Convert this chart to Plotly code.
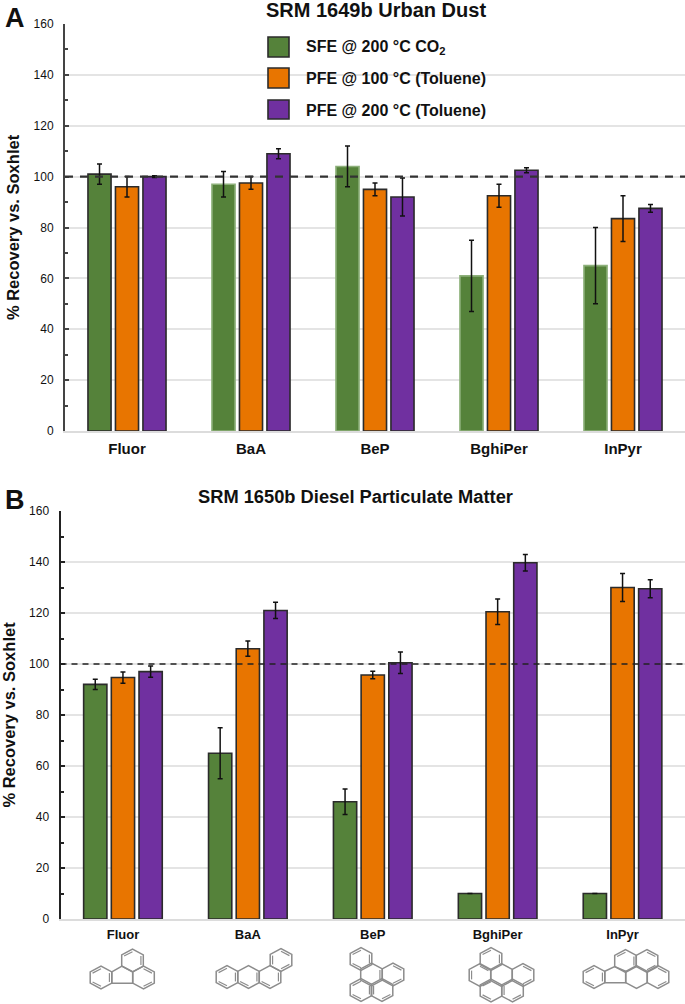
import math
import plotly.graph_objects as go

W, H = 685, 1004

compounds = ["Fluor", "BaA", "BeP", "BghiPer", "InPyr"]
methods = ["SFE @ 200 °C CO<sub>2</sub>", "PFE @ 100 °C (Toluene)", "PFE @ 200 °C (Toluene)"]
colors = ["#55823a", "#e87500", "#7030a0"]

a_sfe = [101, 97, 104, 61, 65]
a_sfe_err = [4, 5, 8, 14, 15]
a_pfe100 = [96, 97.5, 95, 92.5, 83.5]
a_pfe100_err = [4, 2.5, 2.5, 4.5, 9]
a_pfe200 = [100, 109, 92, 102.5, 87.5]
a_pfe200_err = [0.3, 2, 7.5, 1, 1.5]

b_sfe = [92, 65, 46, 10, 10]
b_sfe_err = [2, 10, 5, 0, 0]
b_pfe100 = [94.7, 106, 95.7, 120.5, 130]
b_pfe100_err = [2.2, 3, 1.5, 5, 5.5]
b_pfe200 = [97, 121, 100.5, 139.7, 129.5]
b_pfe200_err = [2.2, 3.2, 4.2, 3.2, 3.5]

DARK = "#2b2b2b"
PALE = "#8db07a"
a_sfe_border = [DARK, PALE, PALE, PALE, PALE]


def px(x):
    return x / W


def py(y):
    return 1 - y / H


fig = go.Figure()


def add_panel(suffix, series, errs, first_border):
    for i in range(3):
        border = first_border if i == 0 else DARK
        fig.add_trace(go.Bar(
            x=compounds, y=series[i], name=methods[i],
            xaxis="x" + suffix, yaxis="y" + suffix,
            showlegend=False,
            marker=dict(color=colors[i], line=dict(color=border, width=1.6)),
            error_y=dict(type="data", array=errs[i], visible=True,
                         color="#111111", thickness=1.5, width=2.5),
        ))


add_panel("", [a_sfe, a_pfe100, a_pfe200], [a_sfe_err, a_pfe100_err, a_pfe200_err], a_sfe_border)
add_panel("2", [b_sfe, b_pfe100, b_pfe200], [b_sfe_err, b_pfe100_err, b_pfe200_err], DARK)

FONT = "Liberation Sans, Arial, sans-serif"


def y_axis(anchor, top, bottom, linecolor, label_size, standoff):
    return dict(
        anchor=anchor, domain=[py(bottom), py(top)], range=[0, 160], automargin=False,
        tickmode="array", tickvals=[0, 20, 40, 60, 80, 100, 120, 140, 160],
        ticks="inside", ticklen=4, tickwidth=1.5, tickcolor=linecolor,
        minor=dict(tickmode="array", tickvals=[10, 30, 50, 70, 90, 110, 130, 150],
                   ticks="inside", ticklen=3, tickwidth=1.5, tickcolor=linecolor),
        showline=True, linecolor=linecolor, linewidth=2,
        showgrid=True, gridcolor="#e4e4e4", gridwidth=1.5, zeroline=False,
        tickfont=dict(family=FONT, size=label_size, color="#111111"),
        ticklabelstandoff=7,
        title=dict(text="<b>% Recovery vs. Soxhlet</b>", standoff=standoff,
                   font=dict(family=FONT, size=16.5, color="#111111")),
    )


def x_axis(anchor, left, size, standoff):
    return dict(
        anchor=anchor, domain=[px(left), 1], type="category", range=[-0.5, 4.5], automargin=False,
        categoryorder="array", categoryarray=compounds,
        showline=True, linecolor="#dcdcdc", linewidth=1.5, ticks="",
        showgrid=False, zeroline=False,
        tickfont=dict(family=FONT, size=size, color="#111111"),
        tickvals=compounds, ticktext=[f"<b>{c}</b>" for c in compounds],
        ticklabelstandoff=standoff,
    )


fig.update_layout(
    width=W, height=H, margin=dict(l=0, r=0, t=0, b=0, pad=0, autoexpand=False),
    paper_bgcolor="white", plot_bgcolor="white",
    barmode="group", bargap=0.335, bargroupgap=0.16,
    font=dict(family=FONT),
    xaxis=x_axis("y", 65, 15, 3),
    yaxis=y_axis("x", 24, 431, "#444444", 12, 10),
    xaxis2=x_axis("y2", 60.5, 13, 3),
    yaxis2=y_axis("x2", 511, 919, "#222222", 12, 16),
)

shapes = [
    dict(type="line", xref="x domain", yref="y", x0=0, x1=1, y0=100, y1=100,
         line=dict(color="#333333", width=2.4, dash="8px,7px")),
    dict(type="line", xref="x2 domain", yref="y2", x0=0, x1=1, y0=100, y1=100,
         line=dict(color="#222222", width=1.6, dash="6px,5px")),
]

annotations = []


def text(x, y, s, size, anchor="center"):
    annotations.append(dict(xref="paper", yref="paper", x=px(x), y=py(y), text=s,
                            showarrow=False, xanchor=anchor, yanchor="middle",
                            font=dict(family=FONT, size=size, color="#111111")))


text(376, 10, "<b>SRM 1649b Urban Dust</b>", 20)
text(355, 496, "<b>SRM 1650b Diesel Particulate Matter</b>", 18.3)
text(15, 18, "<b>A</b>", 27)
text(15, 500, "<b>B</b>", 27)

for i, (top, bot, ty) in enumerate([(37, 57, 48), (68, 88, 78), (100, 119, 110)]):
    shapes.append(dict(type="rect", xref="paper", yref="paper",
                       x0=px(268), x1=px(289), y0=py(bot), y1=py(top),
                       fillcolor=colors[i], line=dict(color=DARK, width=1.6)))
    text(304, ty, f"<b>{methods[i]}</b>", 16, "left")

# Molecular structure drawings (decorations under the second panel)
HW, HR = 10.8, 11.3


def hex_pts(cx, cy, k=1.0):
    return [(cx + k * HW * (math.cos(math.radians(a)) / math.cos(math.radians(30))),
             cy + k * HR * math.sin(math.radians(a))) for a in range(30, 390, 60)]


def path(pts, closed=True):
    d = "M " + " L ".join(f"{px(x):.5f},{py(y):.5f}" for x, y in pts)
    return d + (" Z" if closed else "")


GREY = "#8c8c8c"


def draw(pts):
    shapes.append(dict(type="path", xref="paper", yref="paper", path=path(pts),
                       line=dict(color=GREY, width=1.5)))


def draw_hex(cx, cy, edges):
    draw(hex_pts(cx, cy))
    inner = hex_pts(cx, cy, 0.78)
    for j in edges:
        seg = [inner[j], inner[(j + 1) % 6]]
        shapes.append(dict(type="path", xref="paper", yref="paper", path=path(seg, False),
                           line=dict(color=GREY, width=1.2)))


# Fluor
draw_hex(101, 977.5, [1, 3, 5])
draw_hex(143.5, 977.5, [0, 4])
draw_hex(132.5, 960.5, [3, 5])
draw([(111.8, 971.8), (122, 966), (132.7, 971.8), (132.7, 983.2), (111.8, 983.2)])
# BaA
draw_hex(227, 977, [1, 3, 5])
draw_hex(248.5, 977, [1, 5])
draw_hex(270, 977, [1, 5])
draw_hex(281, 960, [0, 2, 4])
# BeP
draw_hex(361, 959, [3, 5, 1])
draw_hex(371.5, 974.5, [5])
draw_hex(393, 974.5, [0, 4])
draw_hex(361, 990, [1, 3, 5])
draw_hex(382, 990, [0, 2])
# BghiPer
draw_hex(491, 959, [3, 5])
draw_hex(480, 975, [2, 4])
draw_hex(501.5, 975, [])
draw_hex(523, 975, [0, 4])
draw_hex(491, 990.5, [1, 3])
draw_hex(512.5, 990.5, [0, 2])
# InPyr
draw_hex(594, 977, [1, 3, 5])
draw_hex(625.5, 961, [3, 5])
draw_hex(647, 961, [4, 0])
draw_hex(636.5, 977, [])
draw_hex(658, 977, [0, 4])
draw([(604.8, 971.3), (614.7, 966.6), (625.7, 971.3), (625.7, 982.7), (604.8, 982.7)])

fig.update_layout(shapes=shapes, annotations=annotations)
fig.write_html("out.html", config=dict(displayModeBar=False),
               post_script="document.body.style.margin='0';")
